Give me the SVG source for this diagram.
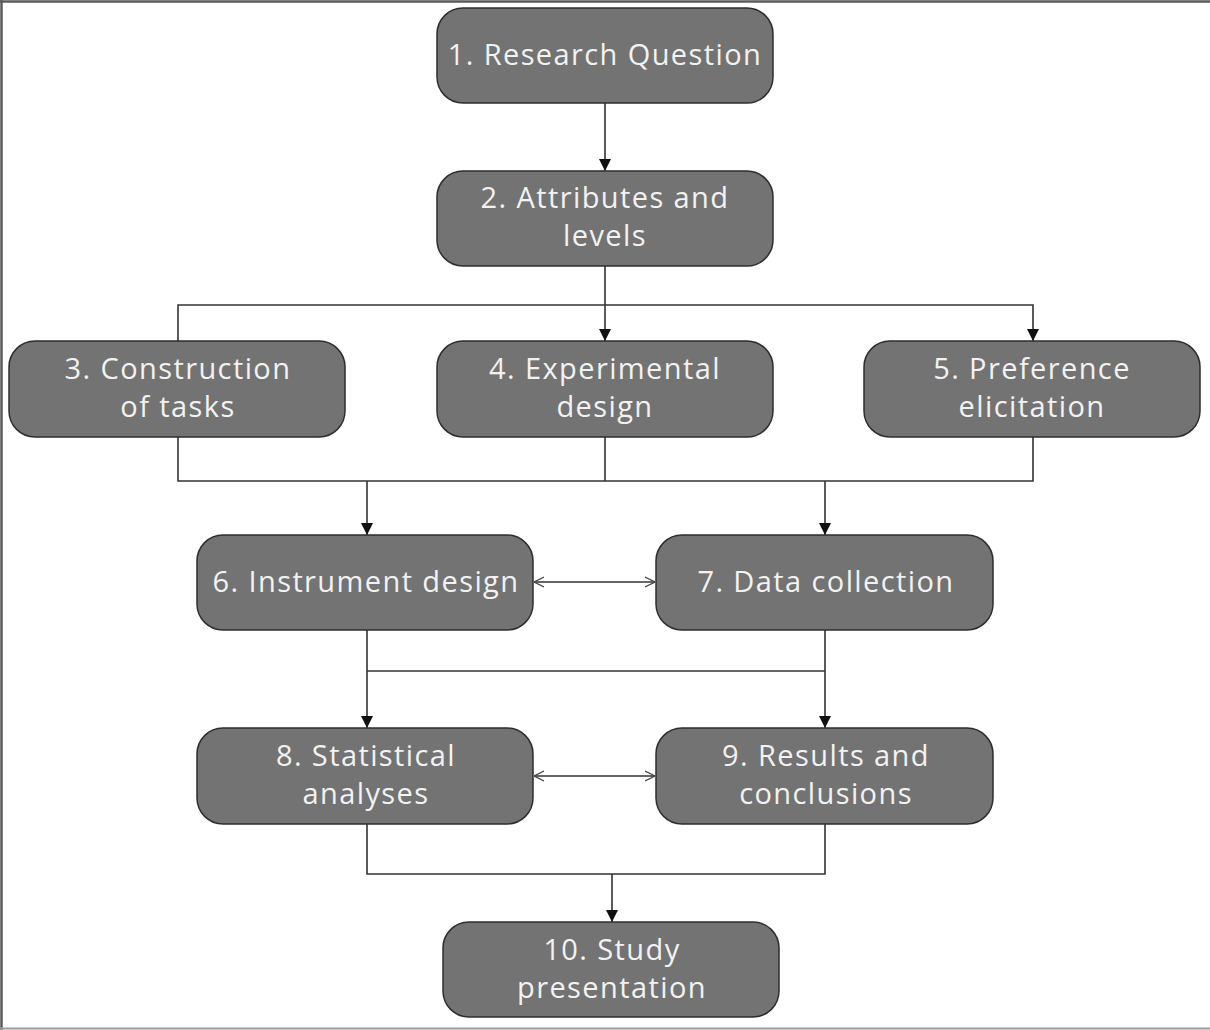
<svg xmlns="http://www.w3.org/2000/svg" width="1210" height="1030" viewBox="0 0 1210 1030">
<style>
.box{fill:#737373;stroke:#2e2e2e;stroke-width:1.5}
.t{font-family:"Open Sans","Liberation Sans",sans-serif;font-size:29px;fill:#f2f2f2;text-anchor:middle;letter-spacing:1.4px}
.ln{fill:none;stroke:#333;stroke-width:1.6}
.bd{fill:none;stroke:#5a5a5a;stroke-width:2.5}
</style>
<defs>
<marker id="ah" viewBox="0 0 10 10" refX="10" refY="5" markerWidth="12" markerHeight="12" markerUnits="userSpaceOnUse" orient="auto"><path d="M0,0 L10,5 L0,10 z" fill="#111"/></marker>
<marker id="oa" viewBox="0 0 10 10" refX="10" refY="5" markerWidth="10" markerHeight="12" markerUnits="userSpaceOnUse" orient="auto-start-reverse"><path d="M0,0 L10,5 L0,10" fill="none" stroke="#444" stroke-width="1.2"/></marker>
</defs>
<rect width="1210" height="1030" fill="#fff"/>
<g id="border">
<line x1="0" y1="1.5" x2="1210" y2="1.5" class="bd"/>
<line x1="1.5" y1="0" x2="1.5" y2="1030" class="bd"/>
<line x1="0" y1="1028.5" x2="1210" y2="1028.5" stroke="#999" stroke-width="2"/>
</g>
<g id="connectors">
<line x1="605" y1="103" x2="605" y2="171" class="ln" marker-end="url(#ah)"/>
<line x1="605" y1="266" x2="605" y2="341" class="ln" marker-end="url(#ah)"/>
<polyline points="178,341 178,305 1033,305 1033,341" class="ln" marker-end="url(#ah)"/>
<polyline points="178,437 178,481 1033,481 1033,437" class="ln"/>
<line x1="605" y1="437" x2="605" y2="481" class="ln"/>
<line x1="367" y1="481" x2="367" y2="535" class="ln" marker-end="url(#ah)"/>
<line x1="825" y1="481" x2="825" y2="535" class="ln" marker-end="url(#ah)"/>
<line x1="534" y1="582" x2="655" y2="582" class="ln" stroke="#555" stroke-width="2.5" marker-start="url(#oa)" marker-end="url(#oa)"/>
<line x1="367" y1="630" x2="367" y2="728" class="ln" marker-end="url(#ah)"/>
<line x1="825" y1="630" x2="825" y2="728" class="ln" marker-end="url(#ah)"/>
<line x1="367" y1="671" x2="825" y2="671" class="ln"/>
<line x1="534" y1="776" x2="655" y2="776" class="ln" stroke="#555" stroke-width="2.5" marker-start="url(#oa)" marker-end="url(#oa)"/>
<polyline points="367,824 367,874 825,874 825,824" class="ln"/>
<line x1="612" y1="874" x2="612" y2="922" class="ln" marker-end="url(#ah)"/>
</g>
<g id="n1"><rect x="437" y="8" width="336" height="95" rx="26" class="box"/><text x="605" y="65" class="t">1. Research Question</text></g>
<g id="n2"><rect x="437" y="171" width="336" height="95" rx="26" class="box"/><text x="605" y="208" class="t">2. Attributes and</text><text x="605" y="246" class="t">levels</text></g>
<g id="n3"><rect x="9" y="341" width="336" height="96" rx="26" class="box"/><text x="178" y="379" class="t">3. Construction</text><text x="178" y="417" class="t">of tasks</text></g>
<g id="n4"><rect x="437" y="341" width="336" height="96" rx="26" class="box"/><text x="605" y="379" class="t">4. Experimental</text><text x="605" y="417" class="t">design</text></g>
<g id="n5"><rect x="864" y="341" width="336" height="96" rx="26" class="box"/><text x="1032" y="379" class="t">5. Preference</text><text x="1032" y="417" class="t">elicitation</text></g>
<g id="n6"><rect x="197" y="535" width="336" height="95" rx="26" class="box"/><text x="366" y="592" class="t">6. Instrument design</text></g>
<g id="n7"><rect x="656" y="535" width="337" height="95" rx="26" class="box"/><text x="826" y="592" class="t">7. Data collection</text></g>
<g id="n8"><rect x="197" y="728" width="336" height="96" rx="26" class="box"/><text x="366" y="766" class="t">8. Statistical</text><text x="366" y="804" class="t">analyses</text></g>
<g id="n9"><rect x="656" y="728" width="337" height="96" rx="26" class="box"/><text x="826" y="766" class="t">9. Results and</text><text x="826" y="804" class="t">conclusions</text></g>
<g id="n10"><rect x="443" y="922" width="336" height="95" rx="26" class="box"/><text x="612" y="960" class="t">10. Study</text><text x="612" y="998" class="t">presentation</text></g>
</svg>
